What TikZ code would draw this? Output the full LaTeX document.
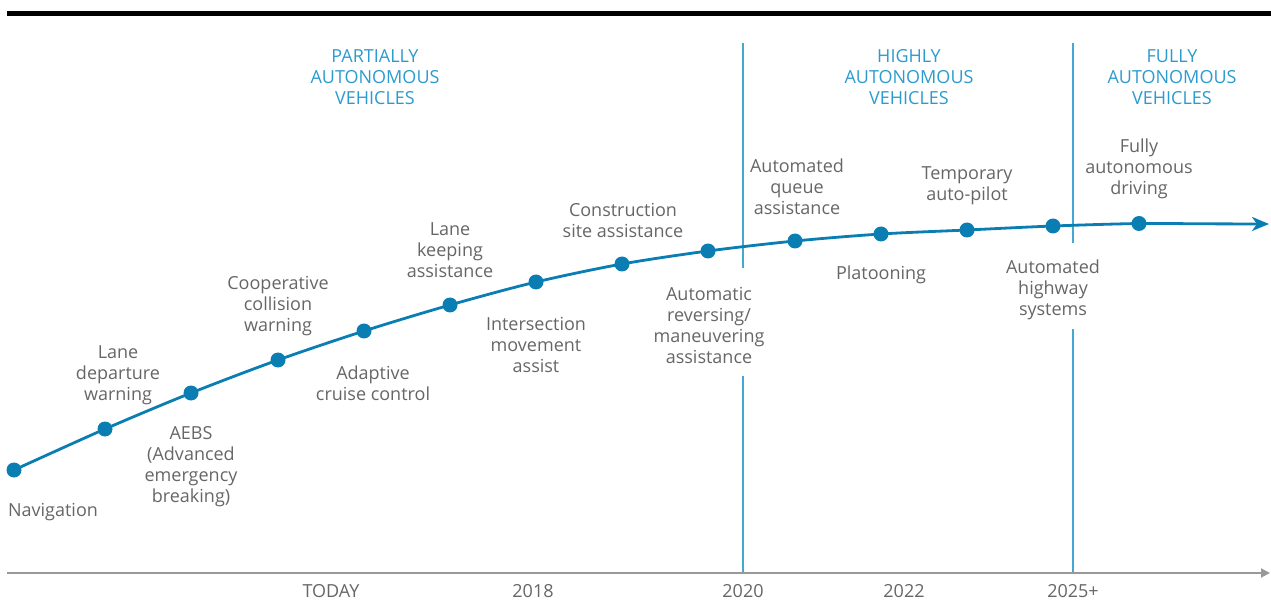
\documentclass[tikz,border=0pt]{standalone}
\usepackage{fontspec}
\setmainfont{Open Sans}
\usetikzlibrary{arrows.meta}
\definecolor{curveblue}{HTML}{0A7DB3}
\definecolor{lineblue}{HTML}{46A8D2}
\definecolor{headblue}{HTML}{2B9BCF}
\definecolor{labelgray}{HTML}{666666}
\definecolor{axisgray}{HTML}{999999}
\tikzset{
  dot/.style={circle,fill=curveblue,inner sep=0pt,minimum size=15pt},
  lbl/.style={align=center,text=labelgray,inner sep=0pt,font=\fontsize{18}{21}\selectfont,yshift=-2.5pt},
  head/.style={align=center,text=headblue,inner sep=0pt,font=\fontsize{18}{21}\selectfont,yshift=-1pt},
  yr/.style={text=labelgray,inner sep=0pt,font=\fontsize{18}{21}\selectfont},
  era/.style={draw=lineblue,line width=1.6pt},
}
\begin{document}
\begin{tikzpicture}[x=1pt,y=-1pt]
\useasboundingbox (0,0) rectangle (1271,601);
% top bar
\fill[black] (7,11) rectangle (1271,16.5);
% era separators
\coordinate (v1t) at (743,43); \coordinate (v1a) at (743,268);
\coordinate (v1b) at (743,376); \coordinate (v1c) at (743,573);
\coordinate (v2t) at (1073,43); \coordinate (v2a) at (1073,243);
\coordinate (v2b) at (1073,329); \coordinate (v2c) at (1073,573);
\draw[era] (v1t) -- (v1a);
\draw[era] (v1b) -- (v1c);
\draw[era] (v2t) -- (v2a);
\draw[era] (v2b) -- (v2c);
% axis
\coordinate (ax0) at (7,573);
\coordinate (ax1) at (1270,573);
\draw[axisgray,line width=1.8pt,-{Triangle[length=9pt,width=9pt]}] (ax0) -- (ax1);
% curve points
\coordinate (p1) at (14,470);
\coordinate (p2) at (105,429);
\coordinate (p3) at (191,393);
\coordinate (p4) at (278,360);
\coordinate (p5) at (364,331);
\coordinate (p6) at (450,305);
\coordinate (p7) at (536,282);
\coordinate (p8) at (622,264);
\coordinate (p9) at (708,251);
\coordinate (p10) at (795,241);
\coordinate (p11) at (881,234);
\coordinate (p12) at (967,230);
\coordinate (p13) at (1053,226);
\coordinate (p14) at (1139,223.5);
\coordinate (pend) at (1269,224);
\draw[curveblue,line width=2.8pt,-{Stealth[length=17pt,width=14pt,inset=5pt]}]
  plot[smooth,tension=0.5] coordinates {(p1) (p2) (p3) (p4) (p5) (p6) (p7) (p8) (p9) (p10) (p11) (p12) (p13) (p14) (1200,223.8) (pend)};
\foreach \i in {1,...,14} \node[dot] (n\i) at (p\i) {};
% headings
\node[head] (h1) at (375,76) {PARTIALLY\\AUTONOMOUS\\VEHICLES};
\node[head] (h2) at (909,76) {HIGHLY\\AUTONOMOUS\\VEHICLES};
\node[head] (h3) at (1172,76) {FULLY\\AUTONOMOUS\\VEHICLES};
% labels
\node[lbl] (l1) at (53,510) {Navigation};
\node[lbl] (l2) at (118,373) {Lane\\departure\\warning};
\node[lbl] (l3) at (191,464.5) {AEBS\\(Advanced\\emergency\\breaking)};
\node[lbl] (l4) at (278,304) {Cooperative\\collision\\warning};
\node[lbl] (l5) at (373,380.5) {Adaptive\\cruise control};
\node[lbl] (l6) at (450,248) {Lane\\keeping\\assistance};
\node[lbl] (l7) at (536,342) {Intersection\\movement\\assist};
\node[lbl] (l8) at (623,217.5) {Construction\\site assistance};
\node[lbl] (l9) at (709,322.5) {Automatic\\reversing/\\maneuvering\\assistance};
\node[lbl] (l10) at (797,184) {Automated\\queue\\assistance};
\node[lbl] (l11) at (881,272) {Platooning};
\node[lbl] (l12) at (967,183.5) {Temporary\\auto-pilot};
\node[lbl] (l13) at (1053,287) {Automated\\highway\\systems};
\node[lbl] (l14) at (1139,166) {Fully\\autonomous\\driving};
% years
\node[yr] (y1) at (331,591) {TODAY};
\node[yr] (y2) at (533,591) {2018};
\node[yr] (y3) at (743,591) {2020};
\node[yr] (y4) at (904,591) {2022};
\node[yr] (y5) at (1073,591) {2025+};
\end{tikzpicture}
\end{document}
